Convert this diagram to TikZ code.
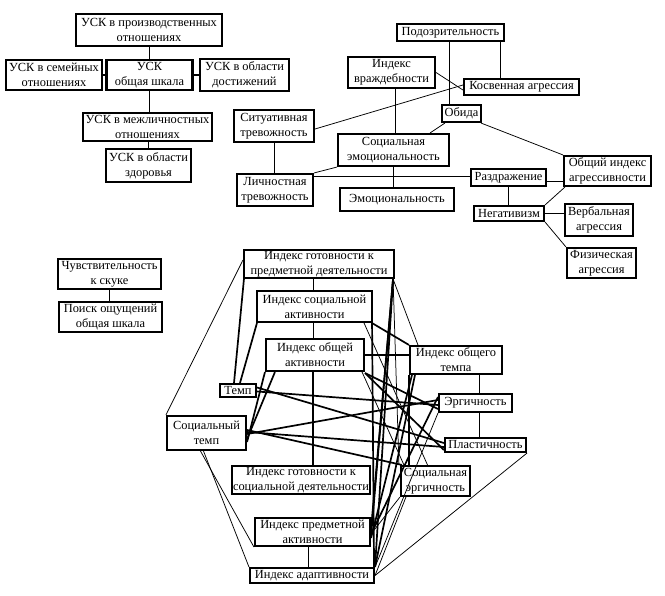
\documentclass[tikz,border=0pt]{standalone}
\usepackage{fontspec}
\setmainfont{Liberation Serif}
\usetikzlibrary{calc}

\begin{document}
\begin{tikzpicture}[x=1pt, y=-1pt,
  box/.style={rectangle, draw, line width=2.1pt, inner sep=0.3pt, align=center,
    font=\fontsize{12.4}{15.2}\selectfont},
  link/.style={line width=0.75pt},
  heavy/.style={line width=1.7pt}
]
\useasboundingbox (0,0) rectangle (665,596);

% Left block: USK scales
\node[box, minimum width=146, minimum height=32] (uskprod) at (149,30) {УСК в производственных\\отношениях};
\node[box, minimum width=96, minimum height=30] (usksem) at (54,75) {УСК в семейных\\отношениях};
\node[box, minimum width=86, minimum height=30] (uskobsh) at (149.5,75) {УСК\\общая шкала};
\node[box, minimum width=89, minimum height=32] (uskdost) at (244.5,75) {УСК в области\\достижений};
\node[box, minimum width=129, minimum height=28] (uskmezh) at (147.5,127) {УСК в межличностных\\отношениях};
\node[box, minimum width=85, minimum height=33] (uskzdor) at (148.5,165.5) {УСК в области\\здоровья};

% Right block: aggression and anxiety
\node[box, minimum width=107, minimum height=17] (podozr) at (450.5,32.5) {Подозрительность};
\node[box, minimum width=87, minimum height=31] (ivrazh) at (391.5,72.5) {Индекс\\враждебности};
\node[box, minimum width=115, minimum height=16] (kosv) at (521.5,87) {Косвенная агрессия};
\node[box, minimum width=39, minimum height=17] (obida) at (461.5,113.5) {Обида};
\node[box, minimum width=80, minimum height=32] (situat) at (274,126) {Ситуативная\\тревожность};
\node[box, minimum width=111, minimum height=32] (socemo) at (393.5,150) {Социальная\\эмоциональность};
\node[box, minimum width=76, minimum height=32] (lichn) at (275,190) {Личностная\\тревожность};
\node[box, minimum width=114, minimum height=23] (emoc) at (397,199.5) {Эмоциональность};
\node[box, minimum width=75, minimum height=17] (razdr) at (508.5,177.5) {Раздражение};
\node[box, minimum width=87, minimum height=30] (obshagr) at (607.5,171) {Общий индекс\\агрессивности};
\node[box, minimum width=70, minimum height=15] (negat) at (509,213.5) {Негативизм};
\node[box, minimum width=68, minimum height=32] (verb) at (599,220) {Вербальная\\агрессия};
\node[box, minimum width=69, minimum height=30] (fiz) at (601.5,263) {Физическая\\агрессия};

% Sensation seeking
\node[box, minimum width=103, minimum height=30] (chuv) at (109.5,274) {Чувствительность\\к скуке};
\node[box, minimum width=103, minimum height=30] (poisk) at (110.5,317) {Поиск ощущений\\общая шкала};

% Bottom block: activity indices
\node[box, minimum width=150, minimum height=28] (igpd) at (319,264) {Индекс готовности к\\предметной деятельности};
\node[box, minimum width=115, minimum height=31] (isa) at (314.5,306.5) {Индекс социальной\\активности};
\node[box, minimum width=98, minimum height=32] (ioa) at (315,355) {Индекс общей\\активности};
\node[box, minimum width=36, minimum height=13] (temp) at (238,390.5) {Темп};
\node[box, minimum width=79, minimum height=34] (stemp) at (206.5,433) {Социальный\\темп};
\node[box, minimum width=138, minimum height=28] (igsd) at (301,480) {Индекс готовности к\\социальной деятельности};
\node[box, minimum width=69, minimum height=30] (socerg) at (435.5,481) {Социальная\\эргичность};
\node[box, minimum width=115, minimum height=28] (ipa) at (312.5,532) {Индекс предметной\\активности};
\node[box, minimum width=124, minimum height=15] (ia) at (312,575.5) {Индекс адаптивности};
\node[box, minimum width=92, minimum height=28] (iot) at (456,360) {Индекс общего\\темпа};
\node[box, minimum width=73, minimum height=18] (erg) at (475.5,403) {Эргичность};
\node[box, minimum width=81, minimum height=14] (plast) at (485.5,445) {Пластичность};

% Links: USK
\draw[heavy] (uskobsh.north) -- (uskobsh.north |- uskprod.south);
\draw[heavy] (uskobsh.south) -- (uskobsh.south |- uskmezh.north);
\draw[heavy] (uskzdor.north) -- (uskzdor.north |- uskmezh.south);
\draw[heavy] (usksem.east) -- (uskobsh.west);
\draw[heavy] (uskobsh.east) -- (uskdost.west);

% Links: aggression and anxiety
\draw[link] ([xshift=-12]obida.north) -- ([xshift=-12]obida.north |- podozr.south);
\draw[link] ([xshift=-21]kosv.north) -- ([xshift=-21]kosv.north |- podozr.south);
\draw[link] (ivrazh.east) -- ([yshift=-3]kosv.west);
\draw[link] ([yshift=-3]situat.east) -- ([yshift=2]kosv.west);
\draw[link] ([xshift=4]ivrazh.south) -- ([xshift=4]ivrazh.south |- socemo.north);
\draw[link] ([xshift=4]obida.south west) -- ([xshift=-20]socemo.north east);
\draw[link] ([xshift=-1]obida.south east) -- (obshagr.north west);
\draw[link] (situat.south) -- (situat.south |- lichn.north);
\draw[link] (lichn.north east) -- (socemo.south west);
\draw[link] ([yshift=1]razdr.west) -- ([yshift=1]razdr.west -| lichn.east);
\draw[link] (socemo.south) -- (socemo.south |- emoc.north);
\draw[link] ([yshift=-4]razdr.east) -- ([yshift=-4]razdr.east -| obshagr.west);
\draw[link] (razdr.south) -- (razdr.south |- negat.north);
\draw[link] (negat.north east) -- ([xshift=2]obshagr.south west);
\draw[link] (negat.east) -- (negat.east -| verb.west);
\draw[link] (negat.south east) -- (fiz.north west);

% Links: sensation seeking
\draw[heavy] (chuv.south) -- (chuv.south |- poisk.north);

% Links: activity indices, vertical chains
\draw[heavy] ([xshift=-1]isa.north) -- ([xshift=-1]isa.north |- igpd.south);
\draw[heavy] ([xshift=-1]isa.south) -- ([xshift=-1]isa.south |- ioa.north);
\draw[heavy] ([xshift=-2]ioa.south) -- ([xshift=-2]ioa.south |- igsd.north);
\draw[heavy] ([xshift=-4]ipa.south) -- ([xshift=-4]ipa.south |- ia.north);
\draw[heavy] ([xshift=4]erg.north) -- ([xshift=4]erg.north |- iot.south);
\draw[heavy] ([xshift=-6]plast.north) -- ([xshift=-6]plast.north |- erg.south);
\draw[heavy] (iot.south west) -- (iot.south west |- socerg.north);

% Links: Social tempo
\draw[link] (stemp.north west) -- ([yshift=4]igpd.west);
\draw[link] ([xshift=-6]stemp.south) -- (ipa.south west);
\draw[link] ([xshift=-3]stemp.south) -- (ia.north west);
\draw[heavy] ([yshift=-9]stemp.east) -- (ioa.south west);
\draw[heavy] ([yshift=-6]stemp.east) -- ([xshift=10]ioa.south west);
\draw[heavy] ([yshift=-1]stemp.east) -- ([yshift=3]erg.west);
\draw[heavy] ([yshift=1]stemp.east) -- ([yshift=-2]plast.west);
\draw[heavy] ([yshift=3]stemp.east) -- ([xshift=2]socerg.north west);

% Links: Tempo
\draw[heavy] ([xshift=-4]temp.north) -- ([xshift=1]igpd.south west);
\draw[heavy] ([xshift=2]temp.north) -- ([xshift=1]isa.south west);
\draw[heavy] ([yshift=-1]temp.east) -- ([yshift=-2]erg.west);
\draw[heavy] ([yshift=3]temp.east) -- ([yshift=2]plast.west);

% Links: general activity
\draw[heavy] (ioa.east) -- (ioa.east -| iot.west);
\draw[heavy] ([yshift=-1]ioa.south east) -- ([yshift=-6]erg.west);
\draw[heavy] ([yshift=-1]ioa.south east) -- ([yshift=-5]plast.west);
\draw[link] ([xshift=-3]ioa.south east) -- ([xshift=4]socerg.north west);

% Links: social activity
\draw[heavy] ([xshift=-1]isa.south east) -- (iot.north west);
\draw[link] ([xshift=-9]isa.south east) -- ([xshift=-8]socerg.north);
\draw[heavy] ([xshift=-1]isa.south east) -- ([xshift=-1]ia.north east);

% Links: readiness for object activity
\draw[link] ([xshift=-2]igpd.south east) -- ([xshift=9]iot.north west);
\draw[heavy] ([xshift=-2]igpd.south east) -- ([yshift=-4]ipa.east);
\draw[heavy] ([xshift=-2]igpd.south east) -- ([yshift=3]ipa.east);
\draw[heavy] ([xshift=-2]igpd.south east) -- (ia.north east);
\draw[link] ([xshift=-2]igpd.south east) -- ([xshift=-1]socerg.north west);

% Links: object activity and adaptivity
\draw[heavy] ([yshift=-6]ipa.east) -- ([xshift=3]iot.south west);
\draw[heavy] ([yshift=-2]ipa.east) -- ([yshift=6]erg.west);
\draw[heavy] (ia.north east) -- ([xshift=6]iot.south west);
\draw[link] (ia.north east) -- (erg.south west);
\draw[link] ([yshift=-2]ipa.east) -- (socerg.south west);
\draw[link] (ia.east) -- ([xshift=6]socerg.south west);
\draw[link] (ia.east) -- (plast.south east);
\end{tikzpicture}
\end{document}
